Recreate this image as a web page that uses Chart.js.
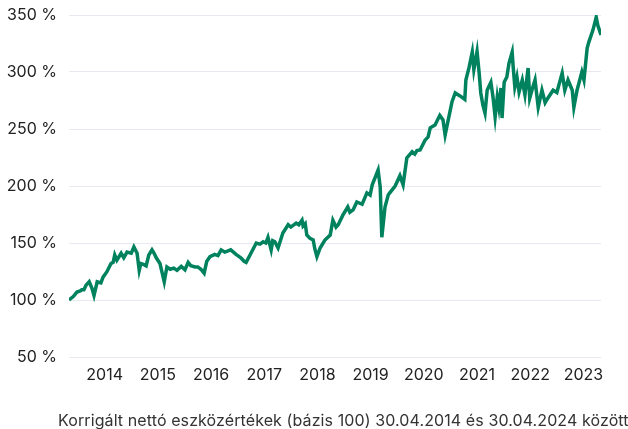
<!DOCTYPE html>
<html>
<head>
<meta charset="utf-8">
<script src="https://cdn.jsdelivr.net/npm/chart.js@4"></script>
<style>
  body { margin: 0; background: #fff; font-family: Inter, sans-serif; }
  #wrap { position: relative; width: 628px; height: 429px; }
  #note {
    position: absolute; left: 58px; top: 410px;
    font-size: 16px; line-height: 20px; color: #333; white-space: nowrap;
    letter-spacing: 0.1px;
  }
</style>
</head>
<body>
<div id="wrap">
  <canvas id="myChart" width="628" height="429"></canvas>
  <div id="note">Korrigált nettó eszközértékek (bázis 100) 30.04.2014 és 30.04.2024 között</div>
</div>
<script>
// decimal year positions (as labelled on the axis) and index values in %
const years = [
  2013.33, 2013.41, 2013.48, 2013.54, 2013.57, 2013.61, 2013.65, 2013.71, 2013.76, 2013.80,
  2013.86, 2013.93, 2013.97, 2014.04, 2014.12, 2014.16, 2014.19, 2014.23, 2014.31, 2014.36,
  2014.42, 2014.50, 2014.55, 2014.61, 2014.65, 2014.68, 2014.74, 2014.78, 2014.83, 2014.89,
  2014.93, 2014.97, 2015.04, 2015.08, 2015.12, 2015.17, 2015.23, 2015.30, 2015.36, 2015.44,
  2015.51, 2015.57, 2015.62, 2015.70, 2015.75, 2015.81, 2015.87, 2015.92, 2015.98, 2016.07,
  2016.13, 2016.19, 2016.26, 2016.32, 2016.37, 2016.47, 2016.56, 2016.62, 2016.66, 2016.75,
  2016.85, 2016.92, 2016.98, 2017.03, 2017.07, 2017.13, 2017.16, 2017.20, 2017.26, 2017.35,
  2017.45, 2017.50, 2017.60, 2017.65, 2017.71, 2017.73, 2017.77, 2017.80, 2017.86, 2017.92,
  2017.95, 2017.99, 2018.05, 2018.14, 2018.24, 2018.29, 2018.35, 2018.39, 2018.48, 2018.57,
  2018.61, 2018.67, 2018.74, 2018.84, 2018.93, 2018.99, 2019.03, 2019.08, 2019.14, 2019.18,
  2019.21, 2019.27, 2019.33, 2019.36, 2019.46, 2019.55, 2019.61, 2019.68, 2019.78, 2019.83,
  2019.87, 2019.93, 2020.02, 2020.08, 2020.12, 2020.21, 2020.30, 2020.36, 2020.40, 2020.45,
  2020.53, 2020.59, 2020.68, 2020.77, 2020.79, 2020.85, 2020.91, 2020.94, 2021.00, 2021.04,
  2021.07, 2021.11, 2021.15, 2021.19, 2021.26, 2021.30, 2021.34, 2021.38, 2021.41, 2021.45,
  2021.47, 2021.51, 2021.56, 2021.60, 2021.66, 2021.68, 2021.71, 2021.75, 2021.79, 2021.85,
  2021.90, 2021.96, 2021.99, 2022.05, 2022.09, 2022.15, 2022.22, 2022.28, 2022.33, 2022.43,
  2022.50, 2022.60, 2022.65, 2022.71, 2022.79, 2022.82, 2022.88, 2022.97, 2023.01, 2023.07,
  2023.10, 2023.18, 2023.24, 2023.27, 2023.33
];
const navValues = [
  100, 103, 107, 108, 109, 109, 113, 116, 110.5, 104,
  116, 115, 120, 124.6, 132, 133, 139.5, 135, 141, 137,
  142, 141, 146.5, 141, 126, 132, 131, 130, 139.5, 144,
  141, 137, 132, 124, 116, 129, 127, 128, 126, 129.5,
  126.5, 133, 130, 129, 129, 127, 123.5, 134, 138, 140,
  139, 144, 142, 143, 144, 140, 137, 134, 133, 141,
  150, 149, 151, 150, 155, 144, 152, 151, 145.6, 158.7,
  166, 164, 167.5, 166, 170, 165, 167, 157, 154, 152.6,
  145, 138, 145.6, 152.6, 157, 170, 164, 166, 174.6, 181.6,
  177, 179, 186, 184, 194, 192, 201, 207, 214, 199,
  155, 181.6, 192, 194, 200, 209, 201, 224.6, 230, 228,
  231, 231.6, 240, 243, 251, 253.5, 262, 258, 244.7, 256,
  274, 281.6, 279, 276, 293, 304, 317.5, 302, 318, 299,
  281.6, 271, 264, 284, 291, 278, 260.5, 278, 269, 286,
  259.6, 291, 295.6, 307.6, 317.5, 304, 287, 295.6, 282.5, 293,
  280, 303.5, 277, 287, 293, 269, 284, 273, 277, 284,
  282, 299, 284, 293, 284, 269, 284, 300, 293, 321,
  326, 337, 348, 341, 332.5
];
const tickYears = [2014, 2015, 2016, 2017, 2018, 2019, 2020, 2021, 2022, 2023];
const yTicks = [50, 100, 150, 200, 250, 300, 350];

const ctx = document.getElementById('myChart').getContext('2d');
const tickFont = { family: 'Inter', size: 16 };

new Chart(ctx, {
  type: 'line',
  data: {
    datasets: [{
      data: years.map((y, i) => ({ x: y, y: navValues[i] })),
      borderColor: '#00825e',
      borderWidth: 3.5,
      pointRadius: 0,
      tension: 0,
      fill: false
    }]
  },
  options: {
    responsive: false,
    animation: false,
    layout: { padding: { top: 15, right: 27, bottom: 42, left: 0 } },
    plugins: { legend: { display: false }, tooltip: { enabled: false } },
    scales: {
      x: {
        type: 'linear',
        min: 2013.33,
        max: 2023.33,
        grid: { display: false, drawTicks: false },
        border: { display: false },
        afterBuildTicks: s => { s.ticks = tickYears.map(v => ({ value: v })); },
        afterFit: s => { s.height = 30; },
        ticks: {
          autoSkip: false, maxRotation: 0, padding: 9,
          color: '#222', font: tickFont,
          callback: v => String(v)
        }
      },
      y: {
        min: 50,
        max: 350,
        grid: { color: '#e6e9ef', lineWidth: 1, drawTicks: false },
        border: { display: false },
        afterBuildTicks: s => { s.ticks = yTicks.map(v => ({ value: v })); },
        afterFit: s => { s.width = 69; s.paddingTop = 8; s.paddingBottom = 8; },
        ticks: {
          padding: 12, color: '#222', font: tickFont,
          callback: v => v + ' %'
        }
      }
    }
  }
});
</script>
</body>
</html>
